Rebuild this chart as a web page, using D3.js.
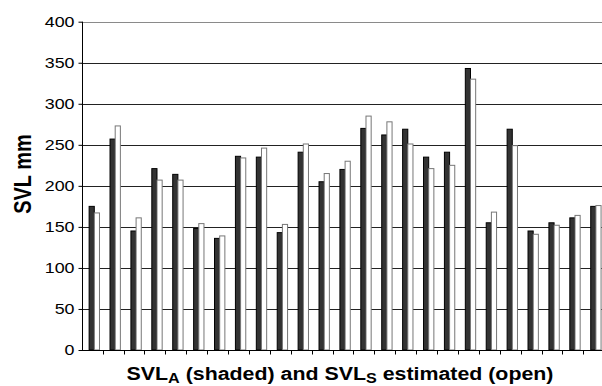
<!DOCTYPE html>
<html>
<head>
<meta charset="utf-8">
<script src="https://cdn.jsdelivr.net/npm/d3@7"></script>
<style>
  html, body { margin: 0; padding: 0; background: #fff; }
  svg { display: block; }
  text { font-family: "Liberation Sans", Arial, sans-serif; fill: #000; }
</style>
</head>
<body>
<svg id="chart" width="602" height="386"></svg>
<script>
// Snout–vent length per specimen: measured (A, shaded) and estimated (S, open)
const specimens = d3.range(1, 26).map(String);
const svlA = [175, 257, 145, 221, 214, 148, 136, 236, 235, 143, 241, 205, 220, 270, 262, 269, 235, 241, 343, 155, 269, 145, 155, 161, 175];
const svlS = [167, 273, 161, 207, 207, 154, 139, 234, 246, 153, 251, 215, 230, 285, 278, 251, 221, 225, 330, 168, 249, 141, 152, 164, 176];
const yTicks = [0, 50, 100, 150, 200, 250, 300, 350, 400];
const seriesKeys = ["A", "S"];

const svg = d3.select("#chart");
const plotLeft = 81.7, plotRight = 604.2, plotTop = 21.7, plotBottom = 350;
const stretch = 1.19; // wide letterforms used throughout

const x = d3.scaleBand().domain(specimens).range([plotLeft, plotRight]).padding(0);
const bw = x.bandwidth();
const xs = d3.scaleBand().domain(seriesKeys).range([0.355 * bw, 0.85 * bw]).padding(0);
const y = d3.scaleLinear().domain([0, 400]).range([plotBottom, plotTop]);

// horizontal gridlines
svg.append("g")
  .selectAll("line")
  .data(yTicks.filter(t => t > 0))
  .join("line")
  .attr("x1", plotLeft).attr("x2", 602)
  .attr("y1", d => Math.round(y(d)) + 0.5).attr("y2", d => Math.round(y(d)) + 0.5)
  .attr("stroke", d => d === 400 ? "#8a8a8a" : "#222")
  .attr("stroke-width", 1);

// bars
const rows = specimens.map((id, i) => ({ id, A: svlA[i], S: svlS[i] }));
const groups = svg.append("g").selectAll("g")
  .data(rows)
  .join("g")
  .attr("transform", d => `translate(${x(d.id)},0)`);

groups.selectAll("rect")
  .data(d => seriesKeys.map(k => ({ key: k, value: d[k] })))
  .join("rect")
  .attr("x", d => xs(d.key))
  .attr("width", xs.bandwidth())
  .attr("y", d => y(d.value))
  .attr("height", d => plotBottom - y(d.value))
  .attr("fill", d => d.key === "A" ? "#333" : "#fff")
  .attr("stroke", d => d.key === "A" ? "#000" : "#777")
  .attr("stroke-width", 1);

// y axis
const yAxis = d3.axisLeft(y).tickValues(yTicks).tickSize(4).tickPadding(4).tickFormat(d3.format("d"));
const gy = svg.append("g").attr("transform", `translate(${Math.round(plotLeft) + 0.5},0)`).call(yAxis);
gy.select(".domain").attr("stroke", "#000").attr("d", `M0,${y(400)}V${plotBottom}`);
gy.selectAll(".tick line").attr("stroke", "#000");
gy.selectAll(".tick text")
  .attr("font-size", 15)
  .attr("font-family", "Liberation Sans, Arial, sans-serif")
  .attr("fill", "#000")
  .attr("x", null)
  .attr("transform", `translate(-8,0) scale(${stretch},1)`);

// x axis: unlabelled category ticks
const xAxis = d3.axisBottom(x).tickValues([]).tickSize(0);
const gx = svg.append("g").attr("transform", `translate(0,${plotBottom + 0.5})`).call(xAxis);
gx.select(".domain").attr("stroke", "#000").attr("d", `M${plotLeft},0H602`);
gx.selectAll("line.cat")
  .data(specimens.slice(1))
  .join("line")
  .attr("class", "cat")
  .attr("x1", d => Math.round(x(d)) + 0.5).attr("x2", d => Math.round(x(d)) + 0.5)
  .attr("y1", 0).attr("y2", 4)
  .attr("stroke", "#000");

// axis titles
svg.append("text")
  .attr("transform", `translate(31,174) scale(${stretch},1) rotate(-90)`)
  .attr("text-anchor", "middle")
  .attr("font-size", 20)
  .attr("font-weight", "bold")
  .text("SVL mm");

const xt = svg.append("text")
  .attr("transform", `translate(340,380) scale(${stretch * 0.97},1)`)
  .attr("text-anchor", "middle")
  .attr("font-size", 18.5)
  .attr("font-weight", "bold");
xt.append("tspan").text("SVL");
xt.append("tspan").attr("font-size", 14).attr("dy", 3).text("A");
xt.append("tspan").attr("dy", -3).text(" (shaded) and SVL");
xt.append("tspan").attr("font-size", 14).attr("dy", 3).text("S");
xt.append("tspan").attr("dy", -3).text(" estimated (open)");
</script>
</body>
</html>
